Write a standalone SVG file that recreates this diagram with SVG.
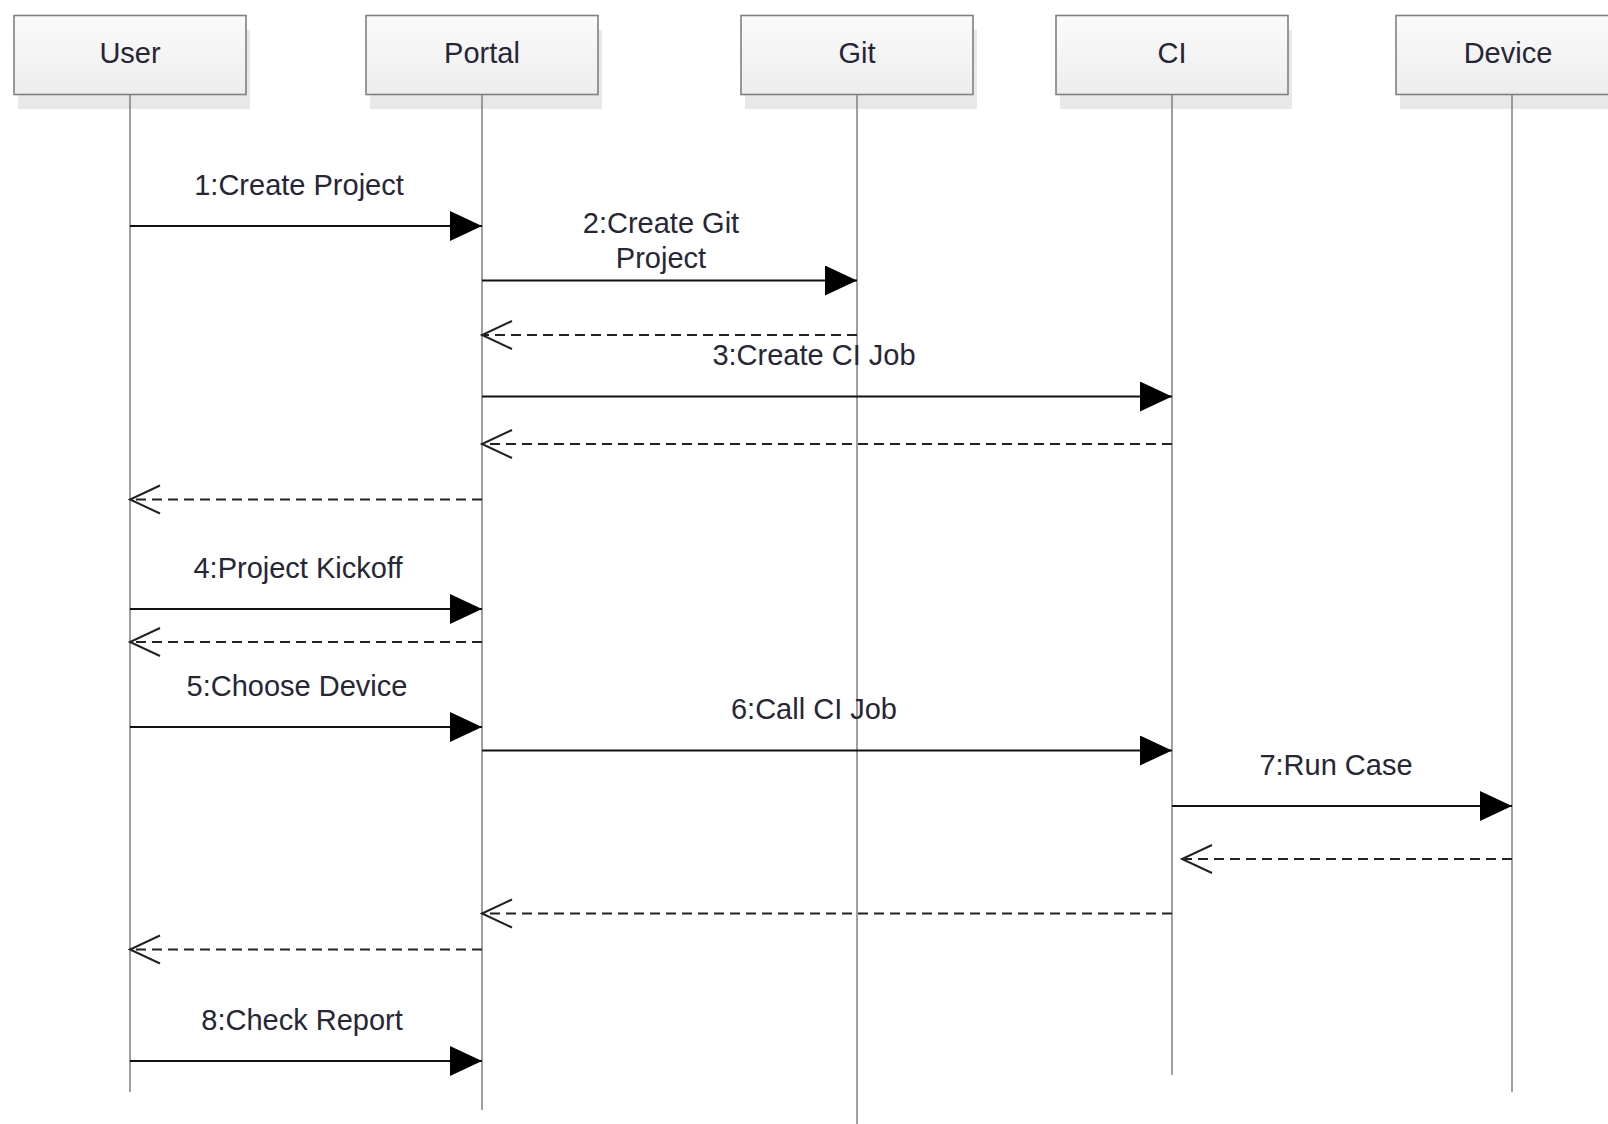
<svg xmlns="http://www.w3.org/2000/svg" width="1608" height="1124" viewBox="0 0 1608 1124">
<style>
.box{fill:url(#g);stroke:#808080;stroke-width:1.6}
.shadow{fill:#e8e8e8}
.life{stroke:#808080;stroke-width:1.5;fill:none}
.t{font-family:"Liberation Sans",Arial,sans-serif;font-size:29px;fill:#262636;text-anchor:middle}
.msg{stroke:#111;stroke-width:2;fill:none;marker-end:url(#fa)}
.ret{stroke:#222;stroke-width:2;fill:none;stroke-dasharray:10 6;marker-end:url(#oa)}
</style>
<defs>
<linearGradient id="g" x1="0" y1="0" x2="0" y2="1">
<stop offset="0" stop-color="#fbfbfb"/>
<stop offset="1" stop-color="#ededed"/>
</linearGradient>
<marker id="fa" markerUnits="userSpaceOnUse" markerWidth="34" markerHeight="32" refX="32" refY="15" orient="auto">
<path d="M0,0 L32,15 L0,30 z" fill="#000"/>
</marker>
<marker id="oa" markerUnits="userSpaceOnUse" markerWidth="34" markerHeight="32" refX="31" refY="15" orient="auto">
<path d="M1,1 L31,15 L1,29" fill="none" stroke="#222" stroke-width="2"/>
</marker>
</defs>
<rect width="1608" height="1124" fill="#fff"/>

<g id="user">
<rect class="shadow" x="18" y="30" width="232" height="79"/>
<rect class="box" x="14" y="15.5" width="232" height="79"/>
<text class="t" x="130" y="63">User</text>
<line class="life" x1="130" y1="95" x2="130" y2="1092"/>
</g>
<g id="portal">
<rect class="shadow" x="370" y="30" width="232" height="79"/>
<rect class="box" x="366" y="15.5" width="232" height="79"/>
<text class="t" x="482" y="63">Portal</text>
<line class="life" x1="482" y1="95" x2="482" y2="1110"/>
</g>
<g id="git">
<rect class="shadow" x="745" y="30" width="232" height="79"/>
<rect class="box" x="741" y="15.5" width="232" height="79"/>
<text class="t" x="857" y="63">Git</text>
<line class="life" x1="857" y1="95" x2="857" y2="1124"/>
</g>
<g id="ci">
<rect class="shadow" x="1060" y="30" width="232" height="79"/>
<rect class="box" x="1056" y="15.5" width="232" height="79"/>
<text class="t" x="1172" y="63">CI</text>
<line class="life" x1="1172" y1="95" x2="1172" y2="1075"/>
</g>
<g id="device">
<rect class="shadow" x="1400" y="30" width="232" height="79"/>
<rect class="box" x="1396" y="15.5" width="232" height="79"/>
<text class="t" x="1508" y="63">Device</text>
<line class="life" x1="1512" y1="95" x2="1512" y2="1092"/>
</g>

<g id="connectors">
<line class="msg" x1="130" y1="226" x2="482" y2="226"/>
<text class="t" x="299" y="195">1:Create Project</text>

<line class="msg" x1="482" y1="280.5" x2="857" y2="280.5"/>
<text class="t" x="661" y="233">2:Create Git</text>
<text class="t" x="661" y="268">Project</text>

<line class="ret" x1="857" y1="335" x2="482" y2="335"/>

<line class="msg" x1="482" y1="396.5" x2="1172" y2="396.5"/>
<text class="t" x="814" y="365">3:Create CI Job</text>

<line class="ret" x1="1172" y1="444" x2="482" y2="444"/>
<line class="ret" x1="482" y1="499.5" x2="130" y2="499.5"/>

<line class="msg" x1="130" y1="609" x2="482" y2="609"/>
<text class="t" x="298" y="578">4:Project Kickoff</text>

<line class="ret" x1="482" y1="642" x2="130" y2="642"/>

<line class="msg" x1="130" y1="727" x2="482" y2="727"/>
<text class="t" x="297" y="696">5:Choose Device</text>

<line class="msg" x1="482" y1="750.5" x2="1172" y2="750.5"/>
<text class="t" x="814" y="719">6:Call CI Job</text>

<line class="msg" x1="1172" y1="806" x2="1512" y2="806"/>
<text class="t" x="1336" y="775">7:Run Case</text>

<line class="ret" x1="1512" y1="859" x2="1182" y2="859"/>
<line class="ret" x1="1172" y1="913.5" x2="482" y2="913.5"/>
<line class="ret" x1="482" y1="949.5" x2="130" y2="949.5"/>

<line class="msg" x1="130" y1="1061" x2="482" y2="1061"/>
<text class="t" x="302" y="1030">8:Check Report</text>
</g>
</svg>
